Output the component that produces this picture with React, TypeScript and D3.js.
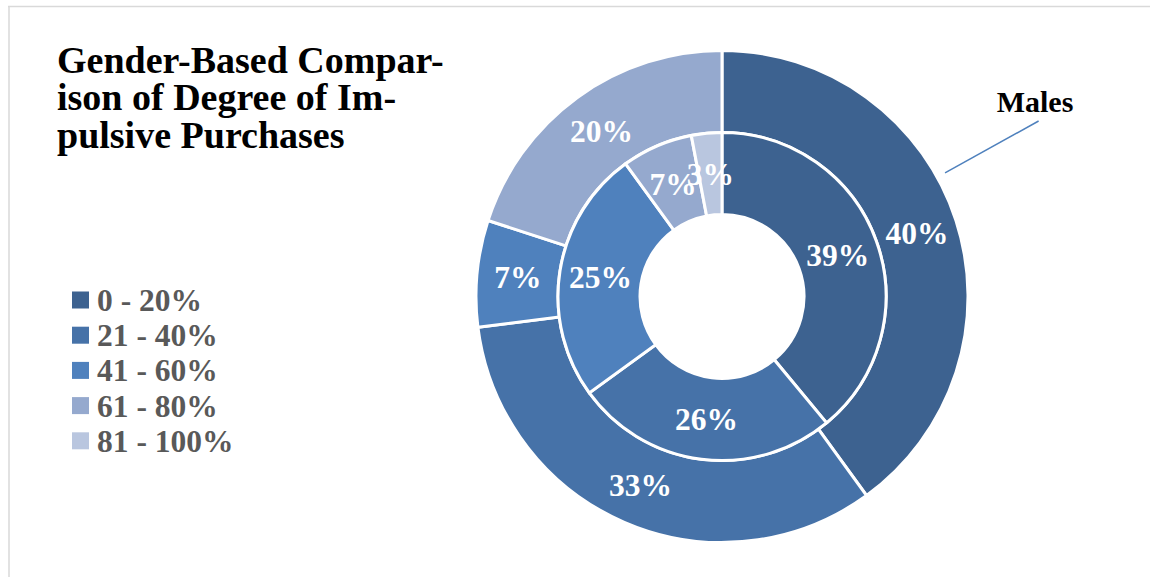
import React from "react";
import * as d3 from "d3";

const categories = ["0 - 20%", "21 - 40%", "41 - 60%", "61 - 80%", "81 - 100%"];
const malesValues = [40, 33, 7, 20, 0];
const femalesValues = [39, 26, 25, 7, 3];
const colors = ["#3D6290", "#4672A8", "#4F81BD", "#95A9CE", "#B9C6DF"];
const titleLines = ["Gender-Based Compar-", "ison of Degree of Im-", "pulsive Purchases"];
const outerSeriesName = "Males";

const W = 1150;
const H = 577;

export default function App() {
  const cx = 722;
  const cy = 296.5;
  const R = 246;
  const ringW = R / 3;

  const pie = d3
    .pie<number>()
    .sort(null)
    .value((d) => d)
    .startAngle(0)
    .endAngle(2 * Math.PI);

  const outerArc = d3.arc<d3.PieArcDatum<number>>().innerRadius(R - ringW).outerRadius(R);
  const innerArc = d3.arc<d3.PieArcDatum<number>>().innerRadius(R - 2 * ringW).outerRadius(R - ringW);

  const outerData = pie(malesValues);
  const innerData = pie(femalesValues);

  const serif = "'Liberation Serif', 'Times New Roman', serif";

  // leader line for series name, roughly radial
  const leadAngle = (61 * Math.PI) / 180;
  const p1 = [Math.sin(leadAngle) * (R + 9), -Math.cos(leadAngle) * (R + 9)];
  const p2 = [Math.sin(leadAngle) * (R + 116), -Math.cos(leadAngle) * (R + 116)];

  const legendY = d3.scaleLinear().domain([0, 1]).range([300, 335.2]);

  const labelSize = 31.5;

  return (
    <svg
      width={W}
      height={H}
      style={{ position: "absolute", left: 0, top: 0, background: "#fff" }}
    >
      <line x1={8} y1={6.5} x2={W} y2={6.5} stroke="#D9D9D9" strokeWidth={1.5} />
      <line x1={9} y1={6} x2={9} y2={H} stroke="#D9D9D9" strokeWidth={1.5} />

      <g fontFamily={serif} fontWeight="bold" fontSize={38} fill="#000">
        {titleLines.map((t, i) => (
          <text key={i} x={57} y={73 + i * 37.3}>
            {t}
          </text>
        ))}
      </g>

      <g>
        {categories.map((c, i) => (
          <g key={c}>
            <rect x={72} y={legendY(i) - 8.5} width={17} height={17} fill={colors[i]} />
            <text
              x={97}
              y={legendY(i) + 11}
              fontFamily={serif}
              fontWeight="bold"
              fontSize={31.5}
              fill="#595959"
            >
              {c}
            </text>
          </g>
        ))}
      </g>

      <g transform={`translate(${cx},${cy})`}>
        {outerData.map((d, i) =>
          d.value > 0 ? (
            <path key={"o" + i} d={outerArc(d) || ""} fill={colors[i]} stroke="#fff" strokeWidth={3} />
          ) : null
        )}
        {innerData.map((d, i) =>
          d.value > 0 ? (
            <path key={"i" + i} d={innerArc(d) || ""} fill={colors[i]} stroke="#fff" strokeWidth={3} />
          ) : null
        )}
        {outerData.map((d, i) => {
          if (d.value <= 0) return null;
          const [x, y] = outerArc.centroid(d);
          return (
            <text
              key={"ol" + i}
              x={x}
              y={y}
              dy="0.35em"
              textAnchor="middle"
              fontFamily={serif}
              fontWeight="bold"
              fontSize={labelSize}
              fill="#fff"
            >
              {d.value}%
            </text>
          );
        })}
        {innerData.map((d, i) => {
          if (d.value <= 0) return null;
          const [x, y] = innerArc.centroid(d);
          return (
            <text
              key={"il" + i}
              x={x}
              y={y}
              dy="0.35em"
              textAnchor="middle"
              fontFamily={serif}
              fontWeight="bold"
              fontSize={labelSize}
              fill="#fff"
            >
              {d.value}%
            </text>
          );
        })}
        <line x1={p1[0]} y1={p1[1]} x2={p2[0]} y2={p2[1]} stroke="#4F81BD" strokeWidth={1.5} />
      </g>

      <text
        x={1035}
        y={112}
        textAnchor="middle"
        fontFamily={serif}
        fontWeight="bold"
        fontSize={30}
        fill="#000"
      >
        {outerSeriesName}
      </text>
    </svg>
  );
}
